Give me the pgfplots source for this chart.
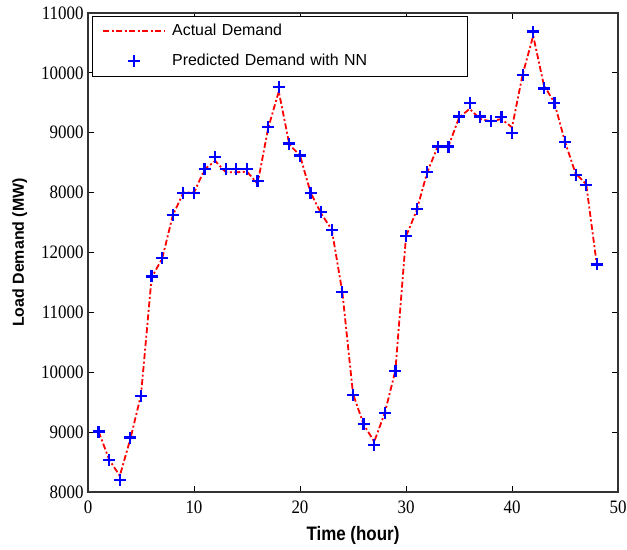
\documentclass[border=0pt]{standalone}
\usepackage{fontspec}
\setmainfont{Liberation Serif}
\newfontfamily\arial{Liberation Sans}
\usepackage{pgfplots}
\pgfplotsset{compat=1.18}
\definecolor{dred}{RGB}{255,0,0}
\pgfplotsset{
  linelegend/.style={legend image code/.code={\path[draw=dred, color=dred, line width=2bp, dash pattern=on 6bp off 2.5bp on 2bp off 2.5bp] (0bp,0bp) -- (61bp,0bp);}},
  marklegend/.style={legend image code/.code={\draw[blue, line width=2.2bp] plot[mark=+, mark size=6bp, only marks] coordinates {(31bp,0bp)};}},
}
\begin{document}
\begin{tikzpicture}
\path[use as bounding box] (-88bp,-58bp) rectangle (539bp,492bp);
\begin{axis}[
  scale only axis, width=530bp, height=479bp,
  xmin=0, xmax=50, ymin=8000, ymax=16000,
  xtick={0,10,...,50}, ytick={8000,9000,...,16000},
  yticklabels={8000,9000,10000,11000,12000,8000,9000,10000,11000},
  scaled y ticks=false,
  tick align=inside, major tick length=6bp,
  tick style={black, line width=0.8bp},
  axis line style={line width=1.1bp, black!80},
  ticklabel style={font=\fontsize{17}{17}\selectfont, yscale=1.12},
  xticklabel style={yshift=-4bp},
  yticklabel style={xshift=-1bp},
  /pgf/number format/assume math mode=true,
  xlabel={Time (hour)}, ylabel={Load Demand (MW)},
  xlabel style={font=\arial\bfseries\fontsize{17}{17}\selectfont, yscale=1.15, yshift=-5bp},
  ylabel style={font=\arial\bfseries\fontsize{16}{16}\selectfont, yshift=7bp},
  legend cell align=left,
  legend style={at={(rel axis cs:0.0075,0.9937)}, anchor=north west,
    draw=black, inner xsep=10bp, inner ysep=7bp, row sep=14bp,
    /tikz/every odd column/.append style={column sep=7bp},
    nodes={inner sep=0pt, text height=12bp, text depth=4bp, text width=285bp,
      font=\arial\fontsize{16}{16}\selectfont}},
]
\addplot[red, line width=1.8bp, dash pattern=on 6bp off 2.5bp on 2bp off 2.5bp, linelegend]
coordinates {
(1,9010) (2,8540) (3,8270) (4,8890) (5,9620) (6,11580) (7,11900) (8,12620)
(9,13000) (10,13000) (11,13390) (12,13530) (13,13340) (14,13340) (15,13350) (16,13150)
(17,14080) (18,14690) (19,13800) (20,13620) (21,13000) (22,12650) (23,12380) (24,11330)
(25,9640) (26,9130) (27,8840) (28,9320) (29,10030) (30,12270) (31,12700) (32,13340)
(33,13770) (34,13770) (35,14250) (36,14400) (37,14230) (38,14190) (39,14230) (40,14090)
(41,14970) (42,15620) (43,14800) (44,14500) (45,13850) (46,13320) (47,13140) (48,11800)
};
\addlegendentry{Actual Demand}
\addplot[only marks, mark=+, blue, mark size=6bp, line width=2.2bp, marklegend]
coordinates {
(1,9010) (2,8530) (3,8195) (4,8910) (5,9600) (6,11600) (7,11910) (8,12630)
(9,13000) (10,13000) (11,13390) (12,13590) (13,13390) (14,13390) (15,13390) (16,13200)
(17,14100) (18,14770) (19,13820) (20,13620) (21,13000) (22,12670) (23,12370) (24,11340)
(25,9620) (26,9130) (27,8780) (28,9320) (29,10020) (30,12270) (31,12730) (32,13340)
(33,13770) (34,13770) (35,14270) (36,14500) (37,14270) (38,14190) (39,14260) (40,13990)
(41,14970) (42,15690) (43,14740) (44,14500) (45,13850) (46,13300) (47,13130) (48,11800)
};
\addlegendentry{Predicted Demand with NN}
\end{axis}
\end{tikzpicture}
\end{document}
